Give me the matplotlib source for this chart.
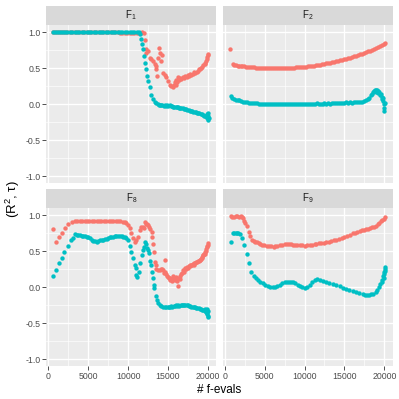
import numpy as np
import matplotlib
matplotlib.use("Agg")
import matplotlib.pyplot as plt
from matplotlib.ticker import MultipleLocator

plt.rcParams['font.family'] = ['Liberation Sans', 'DejaVu Sans']
plt.rcParams['mathtext.fontset'] = 'custom'
plt.rcParams['mathtext.rm'] = 'Liberation Sans'
plt.rcParams['mathtext.it'] = 'Liberation Sans:italic'

RED = "#F8766D"
TEAL = "#00BFC4"

panels = ["F$_1$", "F$_2$", "F$_8$", "F$_9$"]

# ---- F1 ----
f1_r2_x = [600, 850, 1100, 1350, 1600, 1850, 2100, 2400, 2700, 3000, 3300, 3600, 3900, 4200,
           4500, 4800, 5100, 5400, 5700, 6000, 6300, 6600, 6900, 7200, 7500, 7800, 8100, 8400,
           8700, 9000, 9300, 9600, 9900, 10200, 10500, 10800, 11100, 11400, 11600, 11750, 11960,
           12090, 12210, 12290, 12460, 12710, 12920, 13125, 13340, 13460, 13550, 13670, 13750,
           13870, 14050, 14170, 14300, 14375, 14590, 14800, 15000, 15200, 15420, 15630, 15740,
           15840, 15950, 16050, 16150, 16250, 16400, 16550, 16700, 16880, 17050, 17200, 17350,
           17500, 17650, 17800, 17950, 18125, 18300, 18450, 18600, 18750, 18900, 19050, 19170,
           19300, 19450, 19590, 19700, 19800, 19875, 19950, 20000, 20050]
f1_r2_y = [1.0, 1.0, 1.0, 1.0, 1.0, 1.0, 1.0, 1.0, 1.0, 1.0, 1.0, 1.0, 1.0, 1.0,
           1.0, 1.0, 1.0, 1.0, 1.0, 1.0, 1.0, 1.0, 1.0, 1.0, 1.0, 1.0, 1.0, 1.0,
           0.995, 0.99, 0.99, 0.99, 0.99, 0.99, 0.99, 0.985, 0.99, 0.985, 0.99, 1.0, 0.98,
           0.89, 0.71, 0.76, 0.74, 0.645, 0.62, 0.60, 0.56, 0.53, 0.49, 0.39, 0.645,
           0.78, 0.71, 0.60, 0.68, 0.435, 0.41, 0.37, 0.32, 0.27, 0.25, 0.24, 0.26,
           0.30, 0.27, 0.33, 0.31, 0.37, 0.34, 0.36, 0.35, 0.375, 0.36, 0.39, 0.38,
           0.41, 0.395, 0.42, 0.41, 0.42, 0.44, 0.43, 0.45, 0.46, 0.48, 0.49, 0.505,
           0.52, 0.54, 0.55, 0.57, 0.60, 0.62, 0.65, 0.68, 0.70]
f1_tau_x = [600, 850, 1100, 1350, 1600, 1850, 2100, 2400, 2700, 3000, 3300, 3600, 3900, 4200,
            4500, 4800, 5100, 5400, 5700, 6000, 6300, 6600, 6900, 7200, 7500, 7800, 8100, 8400,
            8700, 9000, 9300, 9600, 9900, 10200, 10500, 10800, 11100, 11350, 11550, 11675,
            11800, 11880, 12000, 12125, 12250, 12375, 12500, 12710, 12920, 13125, 13340, 13550,
            13700, 13850, 14000, 14150, 14300, 14450, 14600, 14750, 14900, 15050, 15200, 15350,
            15500, 15650, 15800, 15950, 16100, 16250, 16400, 16550, 16700, 16850, 17000, 17150,
            17300, 17450, 17600, 17750, 17900, 18050, 18200, 18350, 18500, 18650, 18800, 18950,
            19100, 19250, 19400, 19550, 19650, 19750, 19850, 19900, 19950, 20000, 20050, 20080,
            20100]
f1_tau_y = [1.0, 1.0, 1.0, 1.0, 1.0, 1.0, 1.0, 1.0, 1.0, 1.0, 1.0, 1.0, 1.0, 1.0,
            1.0, 1.0, 1.0, 1.0, 1.0, 1.0, 1.0, 1.0, 1.0, 1.0, 1.0, 1.0, 1.0, 1.0,
            1.0, 1.0, 1.0, 1.0, 1.0, 1.0, 1.0, 1.0, 1.0, 0.995, 0.968, 0.90,
            0.83, 0.76, 0.67, 0.575, 0.48, 0.39, 0.32, 0.23, 0.125, 0.065, 0.033, 0.01,
            0.0, -0.01, -0.02, -0.02, -0.015, -0.025, -0.02, -0.03, -0.02, -0.025, -0.02, -0.03,
            -0.025, -0.035, -0.04, -0.035, -0.045, -0.04, -0.05, -0.055, -0.05, -0.06, -0.065, -0.07,
            -0.07, -0.08, -0.085, -0.09, -0.095, -0.10, -0.105, -0.11, -0.115, -0.12, -0.125, -0.13,
            -0.14, -0.145, -0.15, -0.16, -0.17, -0.165, -0.18, -0.14, -0.20, -0.16, -0.22, -0.12,
            -0.19]

# ---- F2 ----
f2_r2_x = [700, 1030, 1200, 1400, 1600, 1800, 2000, 2200, 2400, 2650, 2900, 3150, 3400, 3650,
           3900, 4150, 4400, 4650, 4900, 5150, 5400, 5650, 5900, 6150, 6400, 6650, 6900, 7150,
           7400, 7650, 7900, 8150, 8400, 8650, 8900, 9150, 9400, 9650, 9900, 10150, 10400,
           10650, 10900, 11150, 11400, 11650, 11900, 12150, 12400, 12650, 12900, 13150, 13400,
           13650, 13900, 14150, 14400, 14650, 14900, 15150, 15400, 15650, 15900, 16150, 16400,
           16650, 16900, 17150, 17400, 17650, 17900, 18150, 18400, 18650, 18900, 19150, 19400,
           19650, 19900, 20100]
f2_r2_y = [0.76, 0.55, 0.545, 0.54, 0.535, 0.53, 0.528, 0.525, 0.522, 0.52, 0.515, 0.512, 0.51, 0.508,
           0.505, 0.505, 0.503, 0.502, 0.50, 0.50, 0.50, 0.498, 0.50, 0.50, 0.498, 0.50, 0.50, 0.50,
           0.502, 0.50, 0.503, 0.505, 0.505, 0.507, 0.51, 0.512, 0.514, 0.516, 0.518, 0.521, 0.524,
           0.527, 0.531, 0.535, 0.539, 0.543, 0.548, 0.553, 0.558, 0.564, 0.57, 0.576, 0.582,
           0.588, 0.595, 0.602, 0.609, 0.616, 0.623, 0.63, 0.638, 0.646, 0.654, 0.663, 0.672,
           0.681, 0.69, 0.70, 0.71, 0.72, 0.731, 0.742, 0.753, 0.765, 0.777, 0.79, 0.804,
           0.818, 0.833, 0.848]
f2_tau_x = [745, 950, 1150, 1400, 1600, 1770, 2000, 2250, 2500, 2750, 3000, 3250, 3500, 3750,
            4000, 4250, 4500, 4750, 5000, 5250, 5500, 5750, 6000, 6250, 6500, 6750, 7000, 7250,
            7500, 7750, 8000, 8250, 8500, 8750, 9000, 9250, 9500, 9750, 10000, 10250, 10500,
            10750, 11000, 11250, 11500, 11750, 12000, 12250, 12500, 12750, 13000, 13250, 13500,
            13750, 14000, 14250, 14500, 14750, 15000, 15250, 15500, 15750, 16000, 16250, 16500,
            16750, 17000, 17250, 17500, 17700, 17900, 18100, 18300, 18450, 18600, 18700, 18800,
            18900, 18950, 19050, 19150, 19250, 19350, 19450, 19550, 19650, 19750, 19800, 19850,
            19900, 19950, 20000, 20050]
f2_tau_y = [0.11, 0.09, 0.075, 0.06, 0.055, 0.05, 0.04, 0.035, 0.03, 0.025, 0.02, 0.015, 0.012, 0.01,
            0.008, 0.005, 0.003, 0.002, 0.0, 0.002, -0.003, 0.0, -0.002, 0.003, -0.004, 0.0, -0.003, 0.002,
            -0.005, -0.002, 0.003, -0.002, 0.0, 0.004, -0.001, 0.002, 0.005, 0.0, 0.006, 0.003, 0.007,
            0.002, 0.006, 0.004, 0.008, 0.003, 0.007, 0.005, 0.009, 0.006, 0.01, 0.007, 0.012,
            0.009, 0.015, 0.011, 0.016, 0.013, 0.018, 0.022, 0.016, 0.024, 0.02, 0.028, 0.022,
            0.03, 0.026, 0.035, 0.04, 0.05, 0.07, 0.09, 0.12, 0.14, 0.165, 0.18, 0.19,
            0.20, 0.17, 0.19, 0.18, 0.16, 0.17, 0.13, 0.14, 0.10, 0.07, 0.04, 0.09,
            0.0, -0.05, -0.09, 0.02]

# ---- F8 ----
f8_r2_x = [625, 960, 1340, 1750, 2125, 2500, 2920, 3340, 3650, 3950, 4250, 4550, 4850, 5150,
           5450, 5750, 6050, 6350, 6650, 6950, 7250, 7550, 7850, 8150, 8450, 8750, 9050, 9375,
           9600, 9800, 10000, 10210, 10420, 10625, 10840, 11050, 11250, 11460, 11670, 11860,
           11960, 12090, 12290, 12420, 12500, 12625, 12800, 12960, 13050, 13125, 13220, 13340,
           13450, 13550, 13750, 13960, 14100, 14210, 14330, 14460, 14590, 14670, 14800, 14900,
           15000, 15100, 15210, 15320, 15420, 15530, 15630, 15740, 15840, 15950, 16050, 16150,
           16250, 16350, 16460, 16560, 16670, 16780, 16875, 16980, 17090, 17200, 17300, 17400,
           17500, 17600, 17710, 17810, 17920, 18020, 18125, 18230, 18330, 18440, 18540, 18650,
           18750, 18860, 18960, 19060, 19150, 19230, 19300, 19380, 19450, 19520, 19590, 19660,
           19730, 19800, 19860, 19920, 19970, 20020]
f8_r2_y = [0.805, 0.63, 0.69, 0.755, 0.815, 0.87, 0.90, 0.915, 0.92, 0.92, 0.92, 0.92, 0.92, 0.92,
           0.92, 0.92, 0.92, 0.92, 0.92, 0.92, 0.92, 0.92, 0.918, 0.915, 0.915, 0.912, 0.91, 0.905,
           0.90, 0.895, 0.86, 0.815, 0.745, 0.675, 0.63, 0.65, 0.70, 0.79, 0.83, 0.84,
           0.82, 0.90, 0.88, 0.87, 0.855, 0.84, 0.81, 0.76, 0.70, 0.60, 0.48, 0.35,
           0.30, 0.255, 0.23, 0.23, 0.25, 0.25, 0.24, 0.20, 0.21, 0.37, 0.185, 0.16,
           0.14, 0.12, 0.095, 0.13, 0.115, 0.09, 0.16, 0.12, 0.093, 0.11, 0.14, 0.08,
           0.01, 0.13, 0.115, 0.16, 0.185, 0.20, 0.23, 0.21, 0.245, 0.26, 0.255, 0.28,
           0.27, 0.29, 0.30, 0.29, 0.31, 0.30, 0.325, 0.31, 0.335, 0.33, 0.35, 0.345,
           0.36, 0.355, 0.37, 0.38, 0.395, 0.41, 0.42, 0.44, 0.445, 0.455, 0.46, 0.48,
           0.50, 0.53, 0.55, 0.575, 0.59, 0.61]
f8_tau_x = [625, 960, 1340, 1750, 2000, 2420, 2840, 3130, 3340, 3550, 3750, 3960, 4200, 4400,
            4600, 4800, 5000, 5200, 5420, 5600, 5800, 6050, 6250, 6460, 6700, 6900, 7100, 7300,
            7500, 7700, 7900, 8125, 8350, 8550, 8750, 8960, 9200, 9400, 9590, 9800, 10000,
            10210, 10420, 10625, 10840, 10960, 11050, 11170, 11340, 11550, 11750, 11860, 11960,
            12080, 12210, 12375, 12500, 12625, 12800, 12920, 13020, 13125, 13210, 13300, 13460,
            13600, 13750, 13960, 14170, 14400, 14600, 14800, 14950, 15100, 15250, 15400, 15550,
            15700, 15850, 16000, 16150, 16300, 16450, 16600, 16750, 16900, 17050, 17200, 17350,
            17500, 17650, 17800, 17950, 18100, 18250, 18400, 18550, 18700, 18850, 19000, 19150,
            19300, 19450, 19600, 19700, 19800, 19850, 19900, 19950, 20000, 20050, 20080]
f8_tau_y = [0.153, 0.236, 0.33, 0.40, 0.48, 0.57, 0.65, 0.685, 0.73, 0.725, 0.72, 0.72, 0.715, 0.71,
            0.705, 0.70, 0.69, 0.675, 0.66, 0.645, 0.635, 0.63, 0.64, 0.65, 0.655, 0.66, 0.665, 0.67,
            0.68, 0.69, 0.695, 0.70, 0.705, 0.71, 0.71, 0.71, 0.705, 0.70, 0.70, 0.685, 0.66,
            0.57, 0.49, 0.40, 0.31, 0.26, 0.167, 0.135, 0.21, 0.33, 0.45, 0.52, 0.55,
            0.63, 0.60, 0.545, 0.51, 0.47, 0.36, 0.305, 0.21, 0.12, 0.03, -0.02, -0.125,
            -0.18, -0.22, -0.245, -0.26, -0.27, -0.275, -0.28, -0.275, -0.27, -0.275, -0.265, -0.27,
            -0.26, -0.265, -0.255, -0.26, -0.255, -0.26, -0.25, -0.255, -0.245, -0.25, -0.245, -0.255,
            -0.25, -0.26, -0.265, -0.27, -0.275, -0.28, -0.28, -0.285, -0.29, -0.295, -0.30, -0.31,
            -0.315, -0.32, -0.33, -0.30, -0.34, -0.36, -0.31, -0.38, -0.42, -0.33, -0.40]

# ---- F9 ----
f9_r2_x = [745, 950, 1150, 1350, 1570, 1780, 1980, 2130, 2270, 2400, 2520, 2730, 3010, 3220,
           3430, 3640, 3840, 4050, 4250, 4460, 4700, 4950, 5290, 5550, 5800, 6110, 6350, 6600,
           6940, 7200, 7500, 7770, 8050, 8300, 8590, 8850, 9100, 9420, 9700, 10040, 10350,
           10660, 10950, 11250, 11490, 11800, 12100, 12400, 12730, 13050, 13350, 13700, 14000,
           14380, 14700, 15000, 15350, 15700, 16030, 16300, 16600, 16900, 17200, 17450, 17700,
           17950, 18200, 18450, 18700, 18935, 19150, 19350, 19550, 19750, 19900, 20090]
f9_r2_y = [0.985, 0.975, 0.975, 0.98, 0.98, 0.975, 0.985, 0.97, 0.955, 0.92, 0.89, 0.85, 0.77, 0.71,
           0.66, 0.645, 0.63, 0.62, 0.61, 0.60, 0.59, 0.58, 0.575, 0.57, 0.565, 0.56, 0.565, 0.575,
           0.585, 0.59, 0.595, 0.60, 0.598, 0.595, 0.59, 0.59, 0.588, 0.585, 0.578, 0.57, 0.578,
           0.585, 0.59, 0.595, 0.60, 0.605, 0.61, 0.615, 0.62, 0.63, 0.638, 0.648, 0.655,
           0.665, 0.68, 0.695, 0.71, 0.725, 0.745, 0.755, 0.765, 0.775, 0.785, 0.792, 0.80,
           0.81, 0.82, 0.83, 0.84, 0.85, 0.87, 0.89, 0.91, 0.93, 0.95, 0.97]
f9_tau_x = [745, 1030, 1200, 1360, 1500, 1650, 1860, 2110, 2390, 2730, 3010, 3310, 3630, 3970,
            4200, 4460, 4750, 5080, 5400, 5700, 6000, 6320, 6600, 6940, 7200, 7500, 7770, 8050,
            8300, 8590, 8850, 9150, 9420, 9700, 10040, 10350, 10660, 10950, 11280, 11600, 11900,
            12300, 12730, 13100, 13550, 14000, 14400, 14790, 15200, 15600, 16030, 16400, 16850,
            17270, 17600, 17850, 18100, 18350, 18600, 18935, 19100, 19340, 19500, 19650, 19750,
            19850, 19900, 19960, 20000, 20050, 20090, 20100]
f9_tau_y = [0.63, 0.745, 0.755, 0.755, 0.75, 0.745, 0.73, 0.685, 0.58, 0.46, 0.33, 0.21, 0.155, 0.12,
            0.10, 0.075, 0.05, 0.03, 0.01, -0.005, 0.0, 0.005, 0.015, 0.03, 0.05, 0.065, 0.075, 0.075,
            0.07, 0.065, 0.05, 0.03, 0.015, 0.0, -0.01, 0.005, 0.03, 0.07, 0.10, 0.105, 0.10,
            0.09, 0.075, 0.06, 0.04, 0.025, 0.01, -0.01, -0.025, -0.04, -0.055, -0.07, -0.085,
            -0.10, -0.11, -0.11, -0.11, -0.10, -0.09, -0.065, -0.04, 0.005, 0.04, 0.07, 0.10,
            0.15, 0.12, 0.21, 0.18, 0.25, 0.28, 0.22]

series = [
    (f1_r2_x, f1_r2_y, f1_tau_x, f1_tau_y),
    (f2_r2_x, f2_r2_y, f2_tau_x, f2_tau_y),
    (f8_r2_x, f8_r2_y, f8_tau_x, f8_tau_y),
    (f9_r2_x, f9_r2_y, f9_tau_x, f9_tau_y),
]

W, H = 399, 399
fig = plt.figure(figsize=(W / 100, H / 100), dpi=100)

# panel boxes in pixels
lefts = [46, 222.5]
tops = [24.8, 207.8]
pw, ph = 170.5, 158.5
strip_h = 19.0

for i, (name, (rx, ry, tx, ty)) in enumerate(zip(panels, series)):
    row, col = divmod(i, 2)
    l, t = lefts[col], tops[row]
    ax = fig.add_axes([l / W, 1 - (t + ph) / H, pw / W, ph / H])
    ax.set_facecolor("#EBEBEB")
    ax.scatter(rx, ry, s=10, color=RED, linewidths=0, zorder=3)
    ax.scatter(tx, ty, s=10, color=TEAL, linewidths=0, zorder=4)
    ax.set_xlim(-290, 21090)
    ax.set_ylim(-1.1, 1.1)
    ax.xaxis.set_major_locator(MultipleLocator(5000))
    ax.xaxis.set_minor_locator(MultipleLocator(2500))
    ax.yaxis.set_major_locator(MultipleLocator(0.5))
    ax.yaxis.set_minor_locator(MultipleLocator(0.25))
    ax.grid(which="major", color="white", lw=0.95)
    ax.grid(which="minor", color="white", lw=0.45)
    ax.set_axisbelow(True)
    for sp in ax.spines.values():
        sp.set_visible(False)
    ax.tick_params(which="minor", length=0)
    ax.tick_params(which="major", length=2.6, width=0.6, color="#333333",
                   labelsize=6.3, labelcolor="#4D4D4D", pad=1.5)
    ax.set_yticks([-1.0, -0.5, 0.0, 0.5, 1.0])
    ax.set_yticklabels(["-1.0", "-0.5", "0.0", "0.5", "1.0"])
    if col == 1:
        ax.tick_params(axis="y", left=False, labelleft=False)
    if row == 0:
        ax.tick_params(axis="x", bottom=False, labelbottom=False)

    sax = fig.add_axes([l / W, 1 - t / H, pw / W, strip_h / H])
    sax.set_facecolor("#D9D9D9")
    sax.set_xticks([])
    sax.set_yticks([])
    for sp in sax.spines.values():
        sp.set_visible(False)
    sax.text(0.5, 0.5, name, ha="center", va="center", fontsize=7, color="#1A1A1A",
             transform=sax.transAxes)

fig.text((46 + 393) / 2 / W, 1 - 390 / H, "# f-evals", ha="center", va="center", fontsize=8.5)
fig.text(13 / W, 1 - 199 / H, "(R$^2$, \u03c4)", ha="center", va="center",
         rotation=90, fontsize=9.5)

fig.savefig("out.png", dpi=100)
